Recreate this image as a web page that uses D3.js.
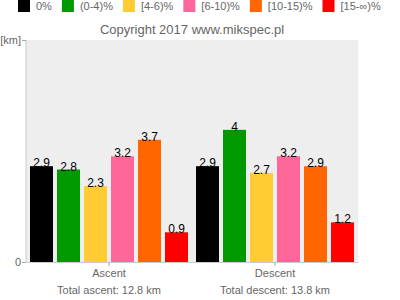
<!DOCTYPE html>
<html lang="en">
<head>
    <meta charset="UTF-8">
    <title>Ascent / descent by gradient</title>
    <script src="https://d3js.org/d3.v7.min.js"></script>
    <style>
        body { margin: 0; font-family: "Liberation Sans", Arial, sans-serif; }
        svg { display: block; }
    </style>
</head>
<body>
    <script>
        // chart data
        const groups = ["Ascent", "Descent"];
        const groupTotals = ["Total ascent: 12.8 km", "Total descent: 13.8 km"];
        const ranges = ["0%", "(0-4)%", "[4-6)%", "[6-10)%", "[10-15)%", "[15-\u221e)%"];
        const colors = ["#000000", "#009900", "#ffcc33", "#ff6699", "#ff6600", "#ff0000"];
        const ascent = [2.9, 2.8, 2.3, 3.2, 3.7, 0.9];
        const descent = [2.9, 4, 2.7, 3.2, 2.9, 1.2];
        const seriesByGroup = [ascent, descent];
        const yMax = 6.72;

        const W = 400, H = 300;
        const plot = { left: 26, right: 358, top: 40, bottom: 262 };

        const svg = d3.select("body").append("svg")
            .attr("width", W)
            .attr("height", H);

        // plot background
        svg.append("rect")
            .attr("x", plot.left)
            .attr("y", plot.top)
            .attr("width", plot.right - plot.left)
            .attr("height", plot.bottom - plot.top)
            .attr("fill", "#eeeeee");

        const x0 = d3.scaleBand()
            .domain(groups)
            .range([plot.left, plot.right]);

        const x1 = d3.scaleBand()
            .domain(ranges)
            .range([4, x0.bandwidth() - 4])
            .paddingInner(4 / 27);

        const y = d3.scaleLinear()
            .domain([0, yMax])
            .range([plot.bottom, plot.top]);

        // bars and value labels
        const g = svg.selectAll(".grp")
            .data(groups.map((name, i) => ({ name, values: seriesByGroup[i] })))
            .enter().append("g")
            .attr("class", "grp")
            .attr("transform", d => `translate(${x0(d.name)},0)`);

        const bar = g.selectAll(".bar")
            .data(d => d.values.map((v, i) => ({ v, range: ranges[i], color: colors[i] })))
            .enter();

        bar.append("rect")
            .attr("x", d => x1(d.range))
            .attr("y", d => y(d.v))
            .attr("width", x1.bandwidth())
            .attr("height", d => y(0) - y(d.v))
            .attr("fill", d => d.color);

        bar.append("text")
            .attr("x", d => x1(d.range) + x1.bandwidth() / 2)
            .attr("y", d => y(d.v) + 1)
            .attr("text-anchor", "middle")
            .style("font-size", "12px")
            .attr("fill", "#000")
            .text(d => d.v);

        // y axis
        const yAxis = svg.append("g")
            .attr("transform", `translate(${plot.left},0)`)
            .call(d3.axisLeft(y)
                .tickValues([0, yMax])
                .tickSize(4)
                .tickPadding(1)
                .tickFormat(d => d === 0 ? "0" : "[km]"));
        yAxis.select(".domain").attr("stroke", "#cccccc").attr("d", `M0,${plot.top}V${plot.bottom}`);
        yAxis.selectAll(".tick line").attr("stroke", "#aaaaaa");
        yAxis.selectAll("text").attr("fill", "#666").style("font-size", "11px")
            .style("font-family", "Liberation Sans, Arial, sans-serif");

        // x axis
        const xAxis = svg.append("g")
            .attr("transform", `translate(0,${plot.bottom})`)
            .call(d3.axisBottom(x0).tickSize(4).tickSizeOuter(0).tickPadding(3));
        xAxis.select(".domain").attr("stroke", "#cccccc");
        xAxis.selectAll(".tick line").attr("stroke", "#aaaaaa");
        xAxis.selectAll("text").attr("fill", "#666").style("font-size", "11px")
            .style("font-family", "Liberation Sans, Arial, sans-serif");

        // totals under groups
        svg.selectAll(".total")
            .data(groups)
            .enter().append("text")
            .attr("x", d => x0(d) + x0.bandwidth() / 2)
            .attr("y", 294)
            .attr("text-anchor", "middle")
            .style("font-size", "11px")
            .attr("fill", "#666")
            .text((d, i) => groupTotals[i]);

        // title
        svg.append("text")
            .attr("x", (plot.left + plot.right) / 2)
            .attr("y", 34)
            .attr("text-anchor", "middle")
            .style("font-size", "13px")
            .attr("fill", "#666")
            .text("Copyright 2017 www.mikspec.pl");

        // legend, laid out by measured text width
        const legend = svg.append("g").attr("transform", "translate(18,0)");
        let lx = 0;
        ranges.forEach((r, i) => {
            const item = legend.append("g").attr("transform", `translate(${lx},0)`);
            item.append("rect")
                .attr("y", 0)
                .attr("width", 12)
                .attr("height", 12)
                .attr("fill", colors[i]);
            const t = item.append("text")
                .attr("x", 18)
                .attr("y", 10)
                .style("font-size", "11px")
                .attr("fill", "#666")
                .text(r);
            lx += 18 + t.node().getComputedTextLength() + 10;
        });
    </script>
</body>
</html>
